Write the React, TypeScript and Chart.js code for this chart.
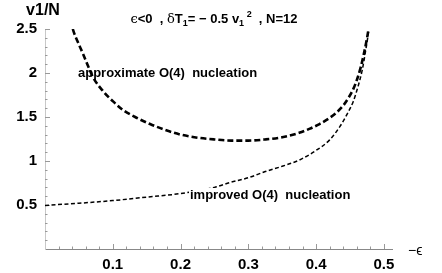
import React, { useEffect, useRef } from 'react';
import { Chart, registerables } from 'chart.js';
Chart.register(...registerables);

// approximate O(4) nucleation (upper, bold dashed)
const approxX = [0.038, 0.041, 0.048, 0.056, 0.064, 0.071, 0.085, 0.1, 0.115, 0.133, 0.155, 0.175, 0.2, 0.225, 0.25, 0.275, 0.3, 0.325, 0.35, 0.375, 0.39, 0.405, 0.42, 0.43, 0.44, 0.448, 0.455, 0.461, 0.466, 0.47, 0.474, 0.477, 0.479];
const approxY = [2.6, 2.5, 2.36, 2.22, 2.07, 1.95, 1.8, 1.68, 1.58, 1.5, 1.42, 1.36, 1.3, 1.265, 1.245, 1.232, 1.232, 1.245, 1.27, 1.32, 1.365, 1.42, 1.49, 1.55, 1.63, 1.72, 1.82, 1.94, 2.07, 2.2, 2.35, 2.48, 2.6];

// improved O(4) nucleation (lower, thin dashed)
const improvedX = [0, 0.05, 0.1, 0.15, 0.2, 0.25, 0.275, 0.3, 0.325, 0.35, 0.375, 0.4, 0.42, 0.435, 0.447, 0.455, 0.462, 0.468, 0.473, 0.477, 0.479];
const improvedY = [0.495, 0.52, 0.55, 0.59, 0.63, 0.7, 0.76, 0.81, 0.88, 0.94, 1.01, 1.12, 1.24, 1.39, 1.55, 1.68, 1.85, 2.03, 2.25, 2.45, 2.6];

const xTicks = [0.1, 0.2, 0.3, 0.4, 0.5];
const yTicks = [0.5, 1, 1.5, 2, 2.5];

const yLabel = 'v1/N';
const xLabel = '−ϵ';
const approxLabel = 'approximate O(4)  nucleation';
const improvedLabel = 'improved O(4)  nucleation';

const FONT = '"Liberation Sans", Arial, Helvetica, sans-serif';

const decorPlugin = {
  id: 'decor',
  beforeDatasetsDraw(chart: any) {
    const ctx = chart.ctx;
    const xs = chart.scales.x;
    const ys = chart.scales.y;
    ctx.save();
    ctx.strokeStyle = '#999';
    ctx.lineWidth = 1;
    const bottom = chart.chartArea.bottom;
    const left = chart.chartArea.left;
    for (let i = 1; i <= 25; i++) {
      const v = i * 0.02;
      const px = Math.round(xs.getPixelForValue(v)) + 0.5;
      const major = i % 5 === 0;
      ctx.beginPath();
      ctx.moveTo(px, bottom);
      ctx.lineTo(px, bottom - (major ? 5 : 2.5));
      ctx.stroke();
    }
    for (let i = 1; i <= 25; i++) {
      const v = i * 0.1;
      const py = Math.round(ys.getPixelForValue(v)) + 0.5;
      const major = i % 5 === 0;
      ctx.beginPath();
      ctx.moveTo(left, py);
      ctx.lineTo(left + (major ? 5 : 2.5), py);
      ctx.stroke();
    }
    ctx.fillStyle = '#000';
    ctx.font = 'bold 13px ' + FONT;
    ctx.textBaseline = 'middle';
    ctx.textAlign = 'left';
    ctx.fillText(approxLabel, 78, 73);
    ctx.restore();
  },
  afterDatasetsDraw(chart: any) {
    const ctx = chart.ctx;
    ctx.save();
    ctx.font = 'bold 13px ' + FONT;
    ctx.textBaseline = 'middle';
    ctx.textAlign = 'left';
    const w = ctx.measureText(improvedLabel).width;
    ctx.fillStyle = '#fff';
    ctx.fillRect(189, 188, w + 2, 13);
    ctx.fillStyle = '#000';
    ctx.fillText(improvedLabel, 190, 195);

    ctx.font = 'bold 16px ' + FONT;
    ctx.textAlign = 'center';
    ctx.fillText(yLabel, 43, 11);
    ctx.font = '14px ' + FONT;
    ctx.textAlign = 'left';
    ctx.fillText(xLabel, 408, 251);

    const b = 'bold 13px ' + FONT;
    const bs = 'bold 9px ' + FONT;
    const n = '13px "DejaVu Serif", serif';
    const parts: [string, string, number][] = [
      ['ϵ', n, 0], ['<0  , ', b, 0], ['δ', n, 0], ['T', b, 0], ['1', bs, 3],
      ['= − 0.5 v', b, 0], ['1', bs, 3], [' ', bs, 0], ['2', bs, -6], ['  , N=12', b, 0],
    ];
    let total = 0;
    for (const [t, f] of parts) { ctx.font = f; total += ctx.measureText(t).width; }
    let x = 214 - total / 2;
    ctx.textAlign = 'left';
    ctx.textBaseline = 'alphabetic';
    for (const [t, f, dy] of parts) {
      ctx.font = f;
      ctx.fillText(t, x, 23 + dy);
      x += ctx.measureText(t).width;
    }
    ctx.restore();
  },
};

export default function App() {
  const ref = useRef<HTMLCanvasElement>(null);
  useEffect(() => {
    document.body.style.margin = '0';
    const c = ref.current!;
    const chart = new Chart(c, {
      type: 'line',
      data: {
        datasets: [
          {
            label: 'approx',
            data: approxX.map((x, i) => ({ x, y: approxY[i] })),
            borderColor: '#000',
            borderWidth: 2.6,
            borderDash: [6, 3],
            pointRadius: 0,
            fill: false,
            cubicInterpolationMode: 'monotone',
            clip: 0,
          } as any,
          {
            label: 'improved',
            data: improvedX.map((x, i) => ({ x, y: improvedY[i] })),
            borderColor: '#000',
            borderWidth: 1.5,
            borderDash: [4, 2.5],
            pointRadius: 0,
            fill: false,
            cubicInterpolationMode: 'monotone',
            clip: 0,
          } as any,
        ],
      },
      options: {
        animation: false,
        responsive: false,
        devicePixelRatio: 1,
        layout: { padding: { top: 29, right: 50, left: 0, bottom: 0 } },
        plugins: { legend: { display: false }, tooltip: { enabled: false }, title: { display: false } },
        scales: {
          x: {
            type: 'linear',
            min: 0,
            max: 0.512,
            afterBuildTicks: (s: any) => { s.ticks = xTicks.map((v) => ({ value: v })); },
            afterFit: (s: any) => { s.height = 24; },
            grid: { drawOnChartArea: false, drawTicks: false },
            border: { display: true, color: '#888', width: 1 },
            ticks: {
              color: '#000',
              font: { family: FONT, size: 15, weight: 'bold' },
              padding: 7,
              maxRotation: 0,
              callback: (v: any) => String(v),
            },
          },
          y: {
            type: 'linear',
            min: 0,
            max: 2.5,
            afterBuildTicks: (s: any) => { s.ticks = yTicks.map((v) => ({ value: v })); },
            afterFit: (s: any) => { s.width = 45; },
            grid: { drawOnChartArea: false, drawTicks: false },
            border: { display: true, color: '#c8c8c8', width: 1 },
            ticks: {
              color: '#000',
              font: { family: FONT, size: 15, weight: 'bold' },
              padding: 8,
              callback: (v: any) => String(v),
            },
          },
        },
      },
      plugins: [decorPlugin],
    } as any);
    return () => chart.destroy();
  }, []);
  return <canvas ref={ref} width={442} height={273} style={{ display: 'block' }} />;
}
